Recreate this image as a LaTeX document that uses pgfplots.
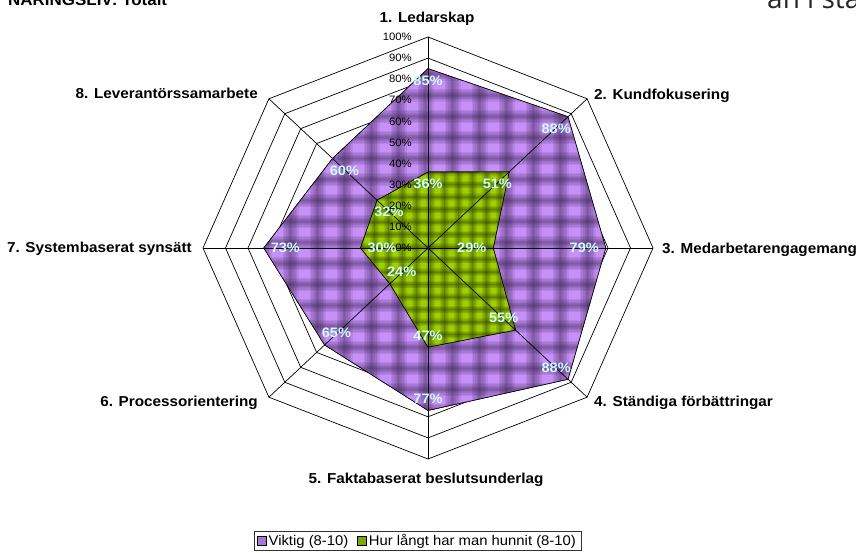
\documentclass[border=0pt]{standalone}
\usepackage{fontspec}
\setmainfont{Liberation Sans}[FakeStretch=1.06]
\newfontfamily\opensans{Open Sans}
\usepackage{pgfplots}
\pgfplotsset{compat=1.18}
\usepackage{pgfplotstable}
\definecolor{vpurple}{HTML}{A678D6}
\definecolor{vlight}{HTML}{C690F8}
\definecolor{vdark}{HTML}{3A2650}
\definecolor{hgreen}{HTML}{7FA800}
\definecolor{hlight}{HTML}{9ED000}
\definecolor{hdark}{HTML}{2C3C00}
\definecolor{labcol}{HTML}{CCFFFF}

% bevel-tile texture: #1 period x, #2 period y, #3 columns, #4 rows, #5 colour
\newcommand{\tiles}[5]{%
  \foreach \i in {0,...,#3} {
    \foreach \w in {0.6,0.48,0.36,0.24,0.12} {
      \draw[path picture={}, #5, line width=\w*#1pt, opacity=0.11] ([xshift=\i*#1pt]path picture bounding box.south west) -- ([xshift=\i*#1pt]path picture bounding box.north west);
    }
  }
  \foreach \j in {0,...,#4} {
    \foreach \w in {0.6,0.48,0.36,0.24,0.12} {
      \draw[path picture={}, #5, line width=\w*#2pt, opacity=0.11] ([yshift=\j*#2pt]path picture bounding box.south west) -- ([yshift=\j*#2pt]path picture bounding box.south east);
    }
  }
}

\pgfplotstableread{
a v
0 85
45 88
90 79
135 88
180 77
225 65
270 73
315 60
360 85
}\viktig

\pgfplotstableread{
a v
0 36
45 51
90 29
135 55
180 47
225 24
270 30
315 32
360 36
}\hunnit

\pgfplotstableread{
a v
0 100
45 100
90 100
135 100
180 100
225 100
270 100
315 100
360 100
}\octa

\begin{document}
\begin{tikzpicture}
\path[use as bounding box] (0pt,0pt) rectangle (856pt,553pt);
\begin{axis}[
  at={(428pt,305pt)}, anchor=center,
  scale only axis, width=450pt, height=422pt,
  xmin=-100, xmax=100, ymin=-100, ymax=100,
  hide axis, clip=false,
  /pgf/number format/assume math mode=true,
  legend columns=2,
  legend style={at={(0.4767,-0.194)}, anchor=center, draw=black!80, line width=0.6pt,
    font=\fontsize{14}{16}\selectfont, inner xsep=3pt, inner ysep=1.5pt,
    /tikz/every even column/.append style={column sep=7pt}},
  legend image code/.code={\draw[#1, draw=black, line width=0.5pt] (0pt,-4.5pt) rectangle (9pt,4.5pt);},
]
% rings
\pgfplotsinvokeforeach{10,20,30,40,50,60,70,80,90,100}{
  \addplot[black, line width=0.7pt, forget plot] table[x expr={#1*sin(\thisrow{a})}, y expr={#1*cos(\thisrow{a})}] {\octa};
}
% series
\addplot[draw=black, line width=0.6pt, fill=vpurple] table[x expr={\thisrow{v}*sin(\thisrow{a})}, y expr={\thisrow{v}*cos(\thisrow{a})}] {\viktig};
\addlegendentry{Viktig (8-10)}
\addplot[forget plot, draw=none, fill=vlight, path picture={\tiles{27}{21}{14}{17}{vdark}}]
  table[x expr={\thisrow{v}*sin(\thisrow{a})}, y expr={\thisrow{v}*cos(\thisrow{a})}] {\viktig};
\addplot[forget plot, draw=black, line width=0.6pt]
  table[x expr={\thisrow{v}*sin(\thisrow{a})}, y expr={\thisrow{v}*cos(\thisrow{a})}] {\viktig};
\addplot[draw=black, line width=0.6pt, fill=hgreen] table[x expr={\thisrow{v}*sin(\thisrow{a})}, y expr={\thisrow{v}*cos(\thisrow{a})}] {\hunnit};
\addlegendentry{Hur långt har man hunnit (8-10)}
\addplot[forget plot, draw=none, fill=hlight, path picture={\tiles{14}{12.5}{12}{15}{hdark}}]
  table[x expr={\thisrow{v}*sin(\thisrow{a})}, y expr={\thisrow{v}*cos(\thisrow{a})}] {\hunnit};
\addplot[forget plot, draw=black, line width=0.6pt]
  table[x expr={\thisrow{v}*sin(\thisrow{a})}, y expr={\thisrow{v}*cos(\thisrow{a})}] {\hunnit};
% spokes
\pgfplotsinvokeforeach{0,45,90,135,180,225,270,315}{
  \addplot[black, line width=0.7pt, forget plot] coordinates {(0,0) ({100*sin(#1)},{100*cos(#1)})};
}
% data labels
\addplot[draw=none, forget plot, point meta=explicit,
  nodes near coords={\pgfmathprintnumber[fixed,precision=0,assume math mode=true]{\pgfplotspointmeta}\%},
  visualization depends on={90-\thisrow{a} \as \ang},
  every node near coord/.append style={anchor=\ang, text=labcol, font=\bfseries\fontsize{13.7}{15}\selectfont, inner sep=1pt, outer sep=6pt},
  skip coords between index={8}{9}]
  table[x expr={\thisrow{v}*sin(\thisrow{a})}, y expr={\thisrow{v}*cos(\thisrow{a})}, meta=v] {\viktig};
\addplot[draw=none, forget plot, point meta=explicit,
  nodes near coords={\pgfmathprintnumber[fixed,precision=0,assume math mode=true]{\pgfplotspointmeta}\%},
  visualization depends on={90-\thisrow{a} \as \ang},
  every node near coord/.append style={anchor=\ang, text=labcol, font=\bfseries\fontsize{13.7}{15}\selectfont, inner sep=1pt, outer sep=6pt},
  skip coords between index={8}{9}]
  table[x expr={\thisrow{v}*sin(\thisrow{a})}, y expr={\thisrow{v}*cos(\thisrow{a})}, meta=v] {\hunnit};
\end{axis}
% radial tick labels
\foreach \k [evaluate=\k as \yy using 305+21.1*\k, evaluate=\k as \lab using int(10*\k)] in {0,...,10} {
  \node[anchor=east, font=\fontsize{10.7}{12}\selectfont, inner sep=0pt] at (412pt,\yy pt) {\lab\%};
}
% category labels
\begin{scope}[every node/.style={font=\bfseries\fontsize{14.4}{17}\selectfont, inner sep=0pt}]
\node[anchor=base] at (427pt,530pt) {1. Ledarskap};
\node[anchor=base west] at (594pt,453pt) {2. Kundfokusering};
\node[anchor=base west] at (662pt,299pt) {3. Medarbetarengagemang};
\node[anchor=base west] at (594pt,146pt) {4. Ständiga förbättringar};
\node[anchor=base] at (426pt,69pt) {5. Faktabaserat beslutsunderlag};
\node[anchor=base east] at (258pt,146pt) {6. Processorientering};
\node[anchor=base east] at (192pt,300pt) {7. Systembaserat synsätt};
\node[anchor=base east] at (258pt,454pt) {8. Leverantörssamarbete};
\end{scope}
% clipped titles at top
\node[anchor=base west, font=\bfseries\fontsize{16}{19}\selectfont, inner sep=0pt] at (8pt,547pt) {NÄRINGSLIV: Totalt};
\node[anchor=base west, font=\opensans\fontsize{28}{32}\selectfont, text=black!85, inner sep=0pt] at (767pt,544pt) {an i sta};
\end{tikzpicture}
\end{document}
